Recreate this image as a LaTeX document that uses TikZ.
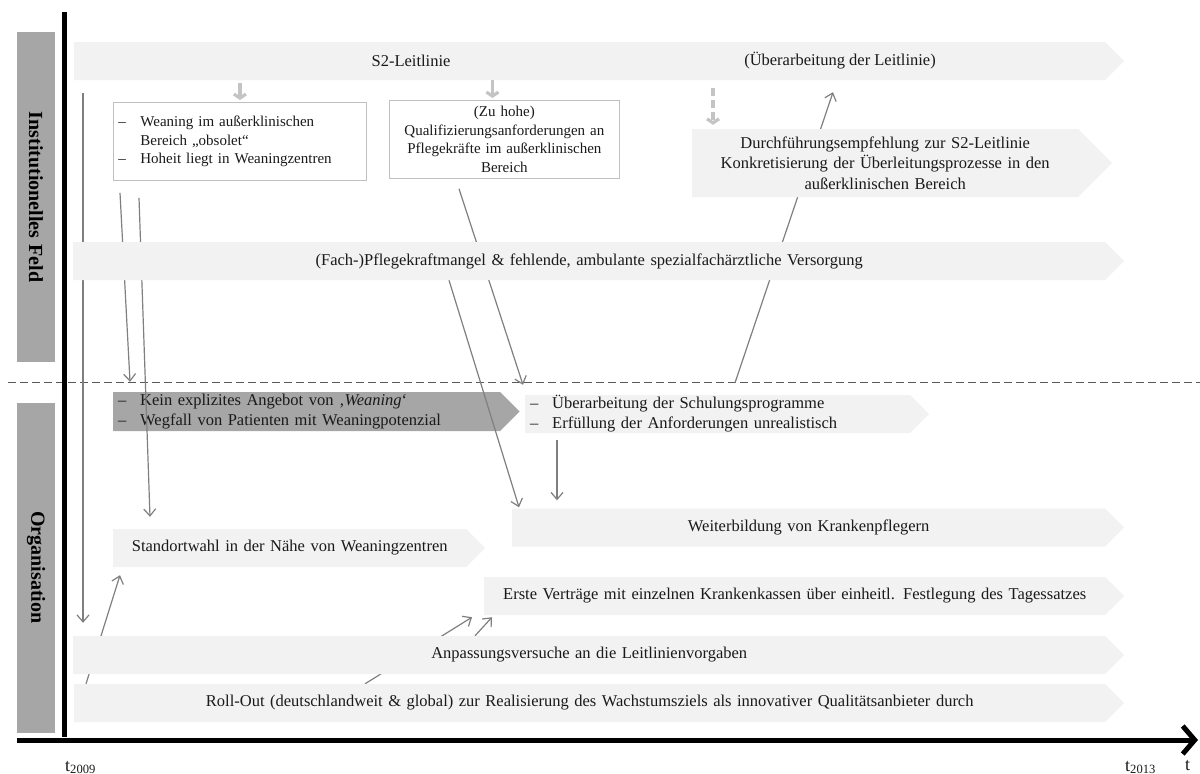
\documentclass[tikz,border=0pt]{standalone}
\usepackage{fontspec}
\setmainfont{Liberation Serif}
\usetikzlibrary{arrows.meta,shapes.symbols}
\definecolor{ink}{HTML}{1A1A1A}
\definecolor{bandfill}{HTML}{F2F2F2}
\definecolor{darkfill}{HTML}{A6A6A6}
\definecolor{boxline}{HTML}{C0C0C0}
\definecolor{connector}{HTML}{7F7F7F}
\definecolor{flowgray}{HTML}{C4C4C4}
\definecolor{divider}{HTML}{595959}
\pgfdeclarelayer{back}
\pgfdeclarelayer{lines}
\pgfsetlayers{back,lines,main}
\newcommand{\itemdash}{\makebox[22pt][l]{–}}
\newcommand{\itemgap}{\hspace*{22pt}}
\tikzset{
  every node/.style={text=ink},
  txt/.style={font=\fontsize{15}{18.5}\selectfont, inner sep=0pt},
  bandtxt/.style={font=\fontsize{16.5}{20}\selectfont, inner sep=0pt},
  band/.style={shape=signal, signal to=east, fill=bandfill, draw=none,
    bandtxt, anchor=west, minimum height=38pt, inner xsep=5pt,
    inner ysep=0pt, align=center},
  darkband/.style={band, fill=darkfill},
  textbox/.style={draw=boxline, fill=white, line width=.8pt, txt,
    anchor=north west, inner xsep=5pt, minimum height=78pt},
  sidebar/.style={fill=darkfill, rotate=-90, minimum width=330pt,
    minimum height=38pt, inner sep=0pt,
    font=\fontsize{20}{22}\selectfont\bfseries, text=black},
  conn/.style={draw=connector, line width=1.2pt,
    -{Straight Barb[length=7pt,width=12pt]}},
  flowarrow/.style={draw=flowgray, line width=3.2pt,
    -{Straight Barb[length=4pt,width=12pt]}},
  axisline/.style={draw=black, line width=5pt},
  dividerline/.style={draw=divider, line width=.9pt,
    dash pattern=on 8pt off 4pt},
  timelabel/.style={font=\fontsize{18}{20}\selectfont, inner sep=0pt,
    anchor=base west}
}

\begin{document}
\begin{tikzpicture}[x=1pt,y=-1pt]
\useasboundingbox (0,0) rectangle (1200,774);

% Field labels on the left
\node[sidebar] (instbar) at (36,197) {Institutionelles\hspace{6pt}Feld};
\node[sidebar] (orgbar) at (36,567.5) {Organisation};

% Time axes
\coordinate (ytop) at (64,12);
\coordinate (ybottom) at (64,737);
\coordinate (origin) at (17,740);
\coordinate (tend) at (1198,740);
\draw[axisline] (ytop) -- (ybottom);
\draw[axisline, -{Straight Barb[length=12pt,width=28pt]}] (origin) -- (tend);
\node[timelabel] (tstart) at (65,771) {t\textsubscript{2009}};
\node[timelabel] (tstop) at (1125,771) {t\textsubscript{2013}};
\node[timelabel] (taxis) at (1185,770) {t};

% Border between the two fields
\coordinate (divleft) at (8,382);
\coordinate (divright) at (1200,382);
\begin{pgfonlayer}{lines}
\draw[dividerline] (divleft) -- (divright);
\end{pgfonlayer}

% Institutionelles Feld
\node[band, text width=1021pt] (s2band) at (74,61) {};
\node[bandtxt] (s2label) at (411,61) {S2-Leitlinie};
\node[bandtxt] (revlabel) at (840,61) {(Überarbeitung der Leitlinie)};

\node[textbox, text width=243pt, align=left] (weanbox) at (113,102)
  {\itemdash Weaning im außerklinischen\\\itemgap Bereich „obsolet“\\
   \itemdash Hoheit liegt in Weaningzentren};
\node[textbox, text width=220pt, align=center] (qualbox) at (389,100)
  {(Zu hohe)\\Qualifizierungsanforderungen an\\
   Pflegekräfte im außerklinischen\\Bereich};
\node[band, text width=376pt, minimum height=68pt,
  font=\fontsize{16.5}{20.5}\selectfont] (durchband) at (692,163)
  {Durchführungsempfehlung zur S2-Leitlinie\\
   Konkretisierung der Überleitungsprozesse in den\\
   außerklinischen Bereich};

\node[band, text width=1022pt] (pflegeband) at (73,261)
  {(Fach-)Pflegekraftmangel \& fehlende, ambulante spezialfachärztliche Versorgung};

% Organisation
\begin{pgfonlayer}{back}
\node[darkband, text width=377pt, align=left, minimum height=39pt]
  (keinband) at (113,411.5)
  {\itemdash Kein explizites Angebot von ‚\textit{Weaning}‘\\
   \itemdash Wegfall von Patienten mit Weaningpotenzial};
\end{pgfonlayer}
\node[band, text width=375pt, align=left] (schulband) at (525,414)
  {\itemdash Überarbeitung der Schulungsprogramme\\
   \itemdash Erfüllung der Anforderungen unrealistisch};

\node[band, text width=583pt] (weiterband) at (512,527.5)
  {Weiterbildung von Krankenpflegern};
\node[band, text width=343pt] (standortband) at (113,548)
  {Standortwahl in der Nähe von Weaningzentren};
\node[band, text width=611pt] (ersteband) at (484,596)
  {Erste Verträge mit einzelnen Krankenkassen über einheitl. Festlegung des Tagessatzes};
\node[band, text width=1022pt] (anpassband) at (73,655)
  {Anpassungsversuche an die Leitlinienvorgaben};
\node[band, text width=1021pt] (rolloutband) at (74,703)
  {Roll-Out (deutschlandweit \& global) zur Realisierung des Wachstumsziels als innovativer Qualitätsanbieter durch};

% Guideline feeds the content boxes
\draw[flowarrow] ([shift={(0,-19)}]weanbox.north) -- ([shift={(0,-2)}]weanbox.north);
\draw[flowarrow] ([shift={(-12,-20)}]qualbox.north) -- ([shift={(-12,-2)}]qualbox.north);
\draw[flowarrow, dash pattern=on 8pt off 4pt]
  ([shift={(21,-41)}]durchband.north west) -- ([shift={(21,-4)}]durchband.north west);

% Influences (behind the light bands)
\begin{pgfonlayer}{lines}
\draw[conn] ([shift={(9,13)}]s2band.south west) -- ([shift={(10,-13)}]anpassband.north west);
\draw[conn] ([shift={(7,12)}]weanbox.south west) -- ([shift={(17,-10)}]keinband.north west);
\draw[conn] ([shift={(26,17)}]weanbox.south west) -- ([shift={(37,-12)}]standortband.north west);
\draw[conn] ([shift={(70,10)}]qualbox.south west) -- ([shift={(-2,-10)}]schulband.north west);
\draw[conn] ([shift={(376,0)}]pflegeband.south west) -- ([shift={(7,-1)}]weiterband.north west);
\draw[conn] ([shift={(32,7)}]schulband.south west) -- ([shift={(45,-8)}]weiterband.north west);
\draw[conn] ([shift={(210,-12)}]schulband.north west) -- ([shift={(759,12)}]s2band.south west);
\draw[conn] ([shift={(12,0)}]rolloutband.north west) -- ([shift={(7,8)}]standortband.south west);
\draw[conn] ([shift={(291,0)}]rolloutband.north west) -- ([shift={(-12,2)}]ersteband.south west);
\draw[conn] ([shift={(402,0)}]anpassband.north west) -- ([shift={(8,2)}]ersteband.south west);
\end{pgfonlayer}

\end{tikzpicture}
\end{document}
